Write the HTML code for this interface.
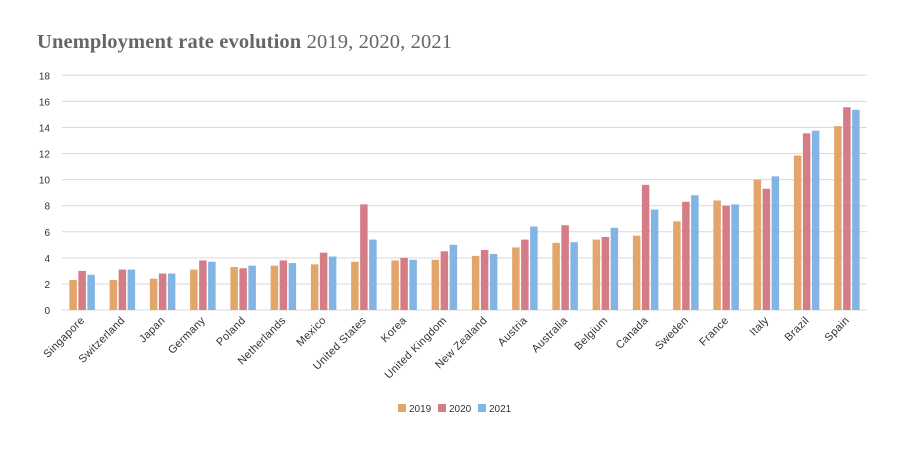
<!DOCTYPE html>
<html><head><meta charset="utf-8"><style>
body{margin:0;background:#fff;width:920px;height:444px;overflow:hidden}
</style></head><body>
<svg width="920" height="444" xmlns="http://www.w3.org/2000/svg" font-family="Liberation Sans, sans-serif">
<text x="37" y="48" font-family="Liberation Serif, serif" font-size="20.5" fill="#666" textLength="415" lengthAdjust="spacing"><tspan font-weight="bold">Unemployment rate evolution</tspan> 2019, 2020, 2021</text>
<g id="grid" stroke="#d9d9d9" stroke-width="1"></g>
<g id="yl" font-size="10" fill="#333" text-anchor="end"></g>
<g id="bars"></g>
<g id="xl" font-size="11" fill="#333" text-anchor="end"></g>
<g font-size="10" fill="#333">
<rect x="398" y="404" width="8" height="8" fill="#E2A56A"/><text x="409" y="412">2019</text>
<rect x="438" y="404" width="8" height="8" fill="#D47D86"/><text x="449" y="412">2020</text>
<rect x="478" y="404" width="8" height="8" fill="#82B5E3"/><text x="489" y="412">2021</text>
</g>
</svg>
<script>
const ns="http://www.w3.org/2000/svg";
function el(p,t,a,txt){const e=document.createElementNS(ns,t);for(const k in a)e.setAttribute(k,a[k]);if(txt!==undefined)e.textContent=txt;document.getElementById(p).appendChild(e);}
const y0=310,sc=(310-75.3)/18,L=62,R=867;
for(let v=0;v<=18;v+=2){const y=y0-v*sc;el("grid","line",{x1:L,x2:R,y1:y,y2:y});el("yl","text",{x:50,y:y+4},v);}
const d=[["Singapore",2.3,3.0,2.7],["Switzerland",2.3,3.1,3.1],["Japan",2.4,2.8,2.8],["Germany",3.1,3.8,3.7],["Poland",3.3,3.2,3.4],["Netherlands",3.4,3.8,3.6],["Mexico",3.5,4.4,4.1],["United States",3.7,8.1,5.4],["Korea",3.8,4.0,3.85],["United Kingdom",3.85,4.5,5.0],["New Zealand",4.15,4.6,4.3],["Austria",4.8,5.4,6.4],["Australia",5.15,6.5,5.2],["Belgium",5.4,5.6,6.3],["Canada",5.7,9.6,7.7],["Sweden",6.8,8.3,8.8],["France",8.4,8.0,8.1],["Italy",10.0,9.3,10.25],["Brazil",11.85,13.55,13.75],["Spain",14.1,15.55,15.35]];
const cols=["#E2A56A","#D47D86","#82B5E3"],gw=(R-L)/20,bw=7.5,gap=1.5;
d.forEach((r,i)=>{const c=L+gw*(i+0.5);for(let j=0;j<3;j++){const h=r[j+1]*sc;el("bars","rect",{x:c-bw*1.5-gap+j*(bw+gap),y:y0-h,width:bw,height:h,fill:cols[j]});}
el("xl","text",{x:c+3,y:321,transform:`rotate(-45 ${c+3} 321)`,"letter-spacing":"0.3"},r[0]);});
</script>
</body></html>
